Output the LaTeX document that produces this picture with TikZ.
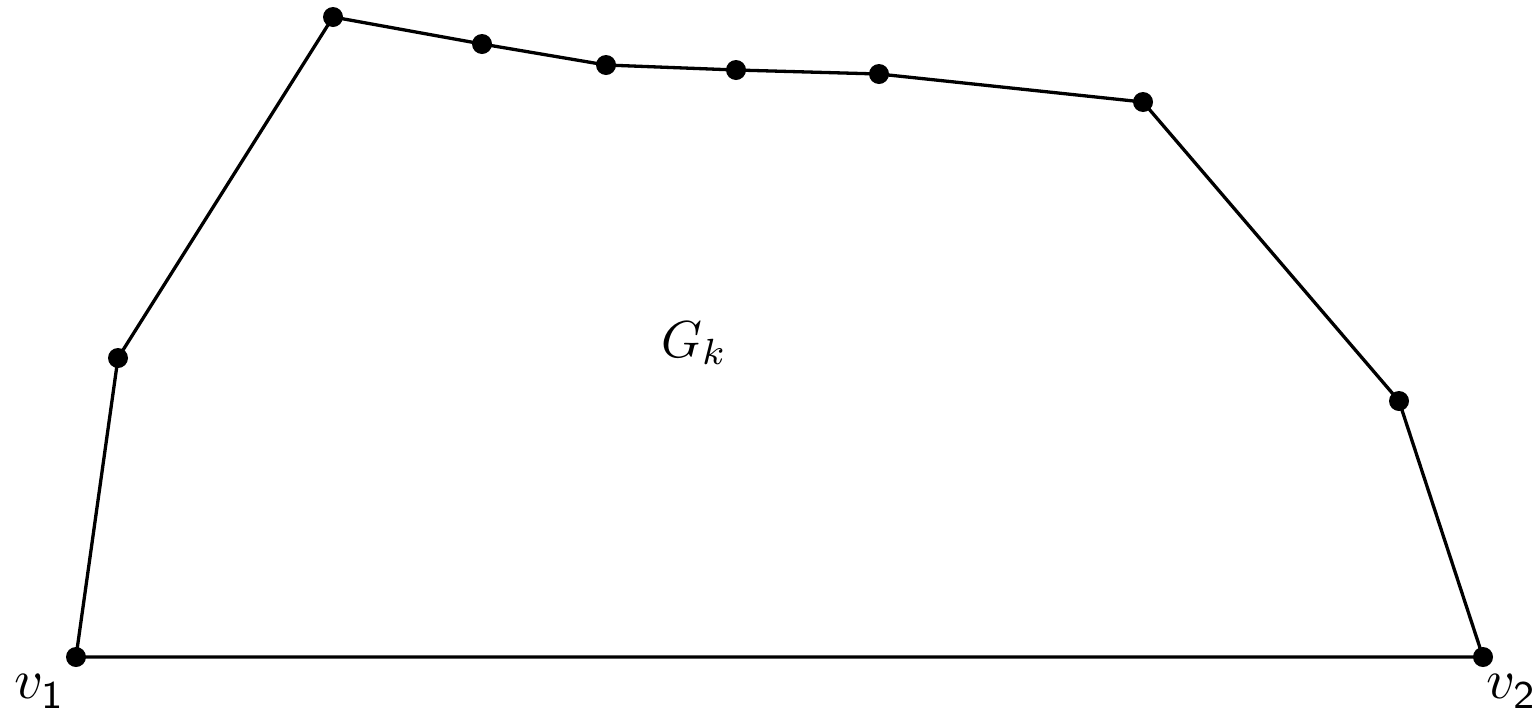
\documentclass[tikz,border=0pt]{standalone}
\usepackage{amsmath}
\begin{document}
\begin{tikzpicture}[x=1pt,y=-1pt,
  dot/.style={circle,fill=black,inner sep=0pt,minimum size=20pt},
  edge/.style={line width=3.3pt,line join=round},
  lbl/.style={inner sep=0pt,anchor=base west,transform shape}]
\useasboundingbox (0,0) rectangle (1538,713);
\node[dot] (v1) at (76,657) {};
\node[dot] (a) at (118,358) {};
\node[dot] (b) at (333,17) {};
\node[dot] (c) at (482,44) {};
\node[dot] (d) at (606,65) {};
\node[dot] (e) at (736,70) {};
\node[dot] (f) at (879,74) {};
\node[dot] (g) at (1143,102) {};
\node[dot] (h) at (1399,401) {};
\node[dot] (v2) at (1483,657) {};
\draw[edge] (v1.center) -- (a.center) -- (b.center) -- (c.center) -- (d.center) -- (e.center) -- (f.center) -- (g.center) -- (h.center) -- (v2.center) -- (v1.center);
\node[lbl,scale=5.6] (l1) at (13,698) {$v_{\raisebox{-0.3pt}{$\scriptstyle\mathsf{1}$}}$};
\node[lbl,scale=5.6] (l2) at (1485,698) {$v_{\raisebox{-0.3pt}{$\scriptstyle\mathsf{2}$}}$};
\node[lbl,scale=5.2] (gk) at (660,357) {$G_k$};
\end{tikzpicture}
\end{document}
